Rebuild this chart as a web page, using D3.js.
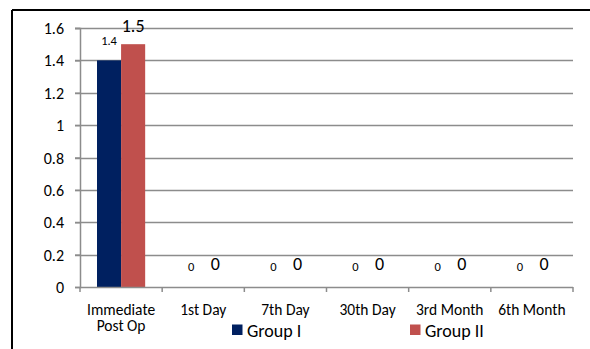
<!DOCTYPE html>
<html>
<head>
<meta charset="utf-8">
<script src="https://cdn.jsdelivr.net/npm/d3@7"></script>
<style>
  html, body { margin: 0; padding: 0; background: #fff; }
  svg { display: block; }
  svg text { font-family: Carlito, Lato, sans-serif; }
</style>
</head>
<body>
<svg id="chart" width="590" height="349"></svg>
<script>
// Follow-up periods and the two groups' values
const categories = [["Immediate", "Post Op"], ["1st Day"], ["7th Day"], ["30th Day"], ["3rd Month"], ["6th Month"]];
const groupI  = [1.4, 0, 0, 0, 0, 0];
const groupII = [1.5, 0, 0, 0, 0, 0];
const seriesNames = ["Group I", "Group II"];
const yTicks = [0, 0.2, 0.4, 0.6, 0.8, 1, 1.2, 1.4, 1.6];

const colors = ["#002060", "#c0504d"];
const svg = d3.select("#chart");

// Frame lines (top and left)
svg.append("line").attr("x1", 12).attr("x2", 590).attr("y1", 10).attr("y2", 10)
  .attr("stroke", "#000").attr("stroke-width", 2);
svg.append("line").attr("x1", 12).attr("x2", 12).attr("y1", 10).attr("y2", 349)
  .attr("stroke", "#000").attr("stroke-width", 2);

const plot = { left: 80, right: 573, top: 28, bottom: 287 };

const x = d3.scaleBand().domain(d3.range(categories.length))
  .range([plot.left, plot.right]).paddingInner(0).paddingOuter(0);
const y = d3.scaleLinear().domain([0, 1.6]).range([plot.bottom, plot.top]);
const inner = d3.scaleBand().domain([0, 1]).range([17, x.bandwidth() - 17]);

// Gridlines
svg.append("g").selectAll("line").data(yTicks.filter(t => t > 0)).join("line")
  .attr("x1", plot.left - 5).attr("x2", plot.right)
  .attr("y1", d => Math.round(y(d)) + 0.5).attr("y2", d => Math.round(y(d)) + 0.5)
  .attr("stroke", "#8c8c8c").attr("stroke-width", 1.5);

// Y axis
const yAxis = svg.append("g").attr("transform", `translate(${plot.left},0)`)
  .call(d3.axisLeft(y).tickValues(yTicks).tickSize(5).tickPadding(11)
    .tickFormat(d => d3.format("")(+d.toFixed(1))));
yAxis.attr("font-family", null).attr("font-size", null);
yAxis.select(".domain").attr("stroke", "#8c8c8c").attr("stroke-width", 1.5);
yAxis.selectAll(".tick line").attr("stroke", "#8c8c8c").attr("stroke-width", 1.5);
yAxis.selectAll(".tick text").style("font-size", "16px").attr("dy", "0.35em").attr("fill", "#000");

// Bars
const series = [groupI, groupII];
series.forEach((vals, si) => {
  svg.append("g").selectAll("rect").data(vals).join("rect")
    .attr("x", (d, i) => x(i) + inner(si))
    .attr("width", inner.bandwidth())
    .attr("y", d => y(d))
    .attr("height", d => y(0) - y(d))
    .attr("fill", colors[si]);
});

// Value labels: Group I small, Group II larger
const labelSizes = ["12.5px", "18px"];
series.forEach((vals, si) => {
  svg.append("g").selectAll("text").data(vals).join("text")
    .attr("x", (d, i) => x(i) + inner(si) + inner.bandwidth() / 2)
    .attr("y", d => d > 0 ? y(d) - (si === 0 ? 15 : 12) : y(0) - (si === 0 ? 16 : 17))
    .attr("text-anchor", "middle")
    .style("font-size", labelSizes[si])
    .attr("fill", "#000")
    .text(d => d3.format("")(d));
});

// X axis
const xAxisG = svg.append("g").attr("transform", `translate(0,${plot.bottom})`);
xAxisG.append("line").attr("x1", plot.left).attr("x2", plot.right)
  .attr("y1", 0.5).attr("y2", 0.5).attr("stroke", "#8c8c8c").attr("stroke-width", 1.5);
xAxisG.selectAll("line.tick").data(d3.range(categories.length + 1)).join("line")
  .attr("class", "tick")
  .attr("x1", i => i < categories.length ? x(i) : plot.right)
  .attr("x2", i => i < categories.length ? x(i) : plot.right)
  .attr("y1", 0).attr("y2", 5)
  .attr("stroke", "#8c8c8c").attr("stroke-width", 1.5);
// Category labels, one text element per line
categories.forEach((lines, i) => {
  lines.forEach((line, li) => {
    xAxisG.append("text")
      .attr("x", x(i) + x.bandwidth() / 2)
      .attr("y", 28 + li * 15.5)
      .attr("text-anchor", "middle")
      .style("font-size", "15.5px")
      .attr("fill", "#000")
      .text(line);
  });
});

// Legend
const legendX = [232, 410];
seriesNames.forEach((name, si) => {
  const g = svg.append("g").attr("transform", `translate(${legendX[si]},324.5)`);
  g.append("rect").attr("width", 10.5).attr("height", 10.5).attr("fill", colors[si]);
  g.append("text").attr("x", 15).attr("y", 12).style("font-size", "18px")
    .attr("fill", "#000").text(name);
});
</script>
</body>
</html>
